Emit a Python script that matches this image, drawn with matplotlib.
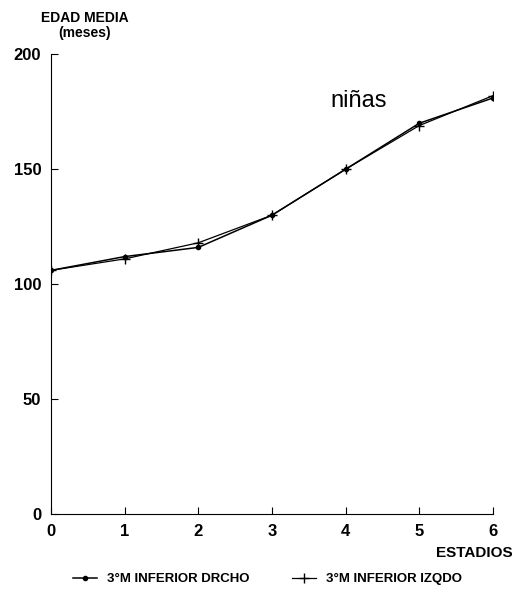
import matplotlib.pyplot as plt

estadios = [0, 1, 2, 3, 4, 5, 6]
drcho = [106, 112, 116, 130, 150, 170, 181]
izqdo = [106, 111, 118, 130, 150, 169, 182]

plt.rcParams['font.family'] = ['Liberation Sans', 'DejaVu Sans']

fig = plt.figure(figsize=(5.15, 5.97), dpi=100)
ax = fig.add_axes([0.099, 0.139, 0.858, 0.77])

ax.plot(estadios, drcho, color='black', lw=1.1, marker='o', ms=3,
        label='3°M INFERIOR DRCHO')
ax.plot(estadios, izqdo, color='black', lw=0.9, marker='+', ms=7, mew=1,
        label='3°M INFERIOR IZQDO')

ax.set_xlim(0, 6)
ax.set_ylim(0, 200)
ax.set_xticks(estadios)
ax.set_yticks([0, 50, 100, 150, 200])
ax.spines['top'].set_visible(False)
ax.spines['right'].set_visible(False)
ax.tick_params(direction='in', length=5, labelsize=12, width=0.8, pad=7)
for lab in ax.get_xticklabels() + ax.get_yticklabels():
    lab.set_fontweight('bold')

ax.text(3.8, 177, 'niñas', fontsize=17)
fig.text(0.165, 0.958, 'EDAD MEDIA\n(meses)', ha='center', va='center',
         fontsize=10, fontweight='bold', linespacing=1.1)
fig.text(0.995, 0.073, 'ESTADIOS', ha='right', va='center',
         fontsize=11, fontweight='bold')

fig.legend(loc='lower center', bbox_to_anchor=(0.52, 0.0), ncol=2,
           frameon=False, prop={'size': 9.5, 'weight': 'bold'},
           handlelength=1.8, columnspacing=3.2)

fig.savefig('out.png', dpi=100)
